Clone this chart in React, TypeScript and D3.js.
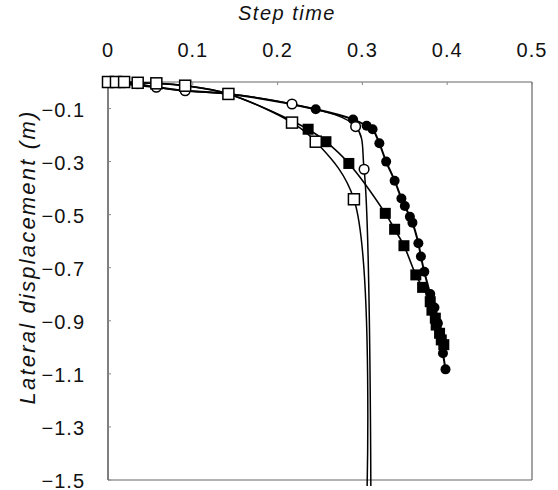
import React from "react";
import * as d3 from "d3";

const W = 558;
const H = 490;

const xTicks = [0, 0.1, 0.2, 0.3, 0.4, 0.5];
const yTicks = [-0.1, -0.3, -0.5, -0.7, -0.9, -1.1, -1.3, -1.5];

// Open squares
const openSqX = [0, 0.0094, 0.019, 0.035, 0.057, 0.091, 0.142, 0.217, 0.245, 0.29, 0.305];
const openSqY = [0, 0, 0, -0.003, -0.005, -0.014, -0.045, -0.153, -0.225, -0.442, -1.6];

// Open circles
const openCiX = [0, 0.019, 0.035, 0.057, 0.091, 0.142, 0.217, 0.292, 0.302, 0.31];
const openCiY = [0, -0.003, -0.006, -0.02, -0.033, -0.045, -0.083, -0.168, -0.329, -1.6];

// Filled squares
const fillSqX = [0, 0.019, 0.035, 0.057, 0.091, 0.142, 0.236, 0.257, 0.284, 0.327, 0.338, 0.349, 0.363, 0.371, 0.38, 0.382, 0.386, 0.387, 0.391, 0.393, 0.396];
const fillSqY = [0, 0, -0.003, -0.005, -0.014, -0.045, -0.178, -0.225, -0.307, -0.495, -0.555, -0.617, -0.727, -0.774, -0.828, -0.86, -0.89, -0.916, -0.947, -0.972, -0.99];

// Filled circles
const fillCiX = [0, 0.057, 0.091, 0.142, 0.245, 0.289, 0.305, 0.312, 0.32, 0.328, 0.338, 0.346, 0.35, 0.356, 0.359, 0.366, 0.369, 0.373, 0.38, 0.385, 0.389, 0.393, 0.395, 0.398];
const fillCiY = [0, -0.02, -0.033, -0.045, -0.103, -0.141, -0.165, -0.178, -0.231, -0.3, -0.372, -0.439, -0.467, -0.508, -0.53, -0.608, -0.658, -0.715, -0.799, -0.85, -0.909, -0.972, -1.022, -1.083];

const L = 108, R = 532, T = 82, B = 480;

export default function App() {
  const x = d3.scaleLinear().domain([0, 0.5]).range([L, R]);
  const y = d3.scaleLinear().domain([0, -1.5]).range([T, B]);
  const line = d3
    .line<[number, number]>()
    .x((d) => x(d[0]))
    .y((d) => y(d[1]))
    .curve(d3.curveCatmullRom.alpha(0.5));
  const zip = (a: number[], b: number[]) => a.map((v, i) => [v, b[i]] as [number, number]);
  const fmt = d3.format(".1f");
  const font = "'Liberation Sans', Arial, Helvetica, sans-serif";

  const fc = zip(fillCiX, fillCiY);
  const fs = zip(fillSqX, fillSqY);
  const oc = zip(openCiX, openCiY);
  const os = zip(openSqX, openSqY);

  return (
    <svg width={W} height={H} style={{ position: "absolute", left: 0, top: 0, background: "#fff" }} fontFamily={font}>
      <defs>
        <clipPath id="plot">
          <rect x={L - 8} y={T - 8} width={R - L + 16} height={B - T + 14} />
        </clipPath>
      </defs>
      {/* frame */}
      <line x1={L} x2={R} y1={T} y2={T} stroke="#666" strokeWidth={1.2} />
      <line x1={R} x2={R} y1={T} y2={B} stroke="#666" strokeWidth={1.2} />
      <line x1={L} x2={R} y1={B} y2={B} stroke="#666" strokeWidth={1.2} />
      <line x1={L} x2={L} y1={T} y2={B} stroke="#555" strokeWidth={1.5} />
      {yTicks.map((t) => (
        <g key={t}>
          <line x1={L} x2={L + 3} y1={y(t)} y2={y(t)} stroke="#888" />
          <text x={85} y={y(t) + 3} textAnchor="end" dominantBaseline="middle" fontSize={20} letterSpacing={1} fill="#111">
            {fmt(t)}
          </text>
        </g>
      ))}
      {xTicks.map((t) => (
        <g key={t}>
          <line x1={x(t)} x2={x(t)} y1={T} y2={T + 3} stroke="#888" />
          <text x={x(t)} y={57} textAnchor="middle" fontSize={20} letterSpacing={1} fill="#111">
            {t === 0 ? "0" : fmt(t)}
          </text>
        </g>
      ))}
      <text x={287} y={20} textAnchor="middle" fontSize={20} fontStyle="italic" letterSpacing={1.5} fill="#111">
        Step time
      </text>
      <text
        transform={`translate(35,257) rotate(-90)`}
        textAnchor="middle"
        fontSize={22}
        fontStyle="italic"
        letterSpacing={2.2}
        fill="#111"
      >
        Lateral displacement (m)
      </text>
      <g clipPath="url(#plot)">
        <path d={line(fc) || ""} fill="none" stroke="#000" strokeWidth={2} />
        <path d={line(fs) || ""} fill="none" stroke="#000" strokeWidth={1.6} />
        <path d={line(oc) || ""} fill="none" stroke="#000" strokeWidth={1.5} />
        <path d={line(os) || ""} fill="none" stroke="#000" strokeWidth={1.5} />
      </g>
      <g clipPath="url(#plot)">
        {fc.map((d, i) => (
          <circle key={"fc" + i} cx={x(d[0])} cy={y(d[1])} r={5} fill="#000" />
        ))}
        {fs.map((d, i) => (
          <rect key={"fs" + i} x={x(d[0]) - 5.5} y={y(d[1]) - 5.5} width={11} height={11} fill="#000" />
        ))}
        {oc.map((d, i) => (
          <circle key={"oc" + i} cx={x(d[0])} cy={y(d[1])} r={4.8} fill="#fff" stroke="#000" strokeWidth={1.5} />
        ))}
        {os.map((d, i) => (
          <rect key={"os" + i} x={x(d[0]) - 5.5} y={y(d[1]) - 5.5} width={11} height={11} fill="#fff" stroke="#000" strokeWidth={1.5} />
        ))}
      </g>
    </svg>
  );
}
